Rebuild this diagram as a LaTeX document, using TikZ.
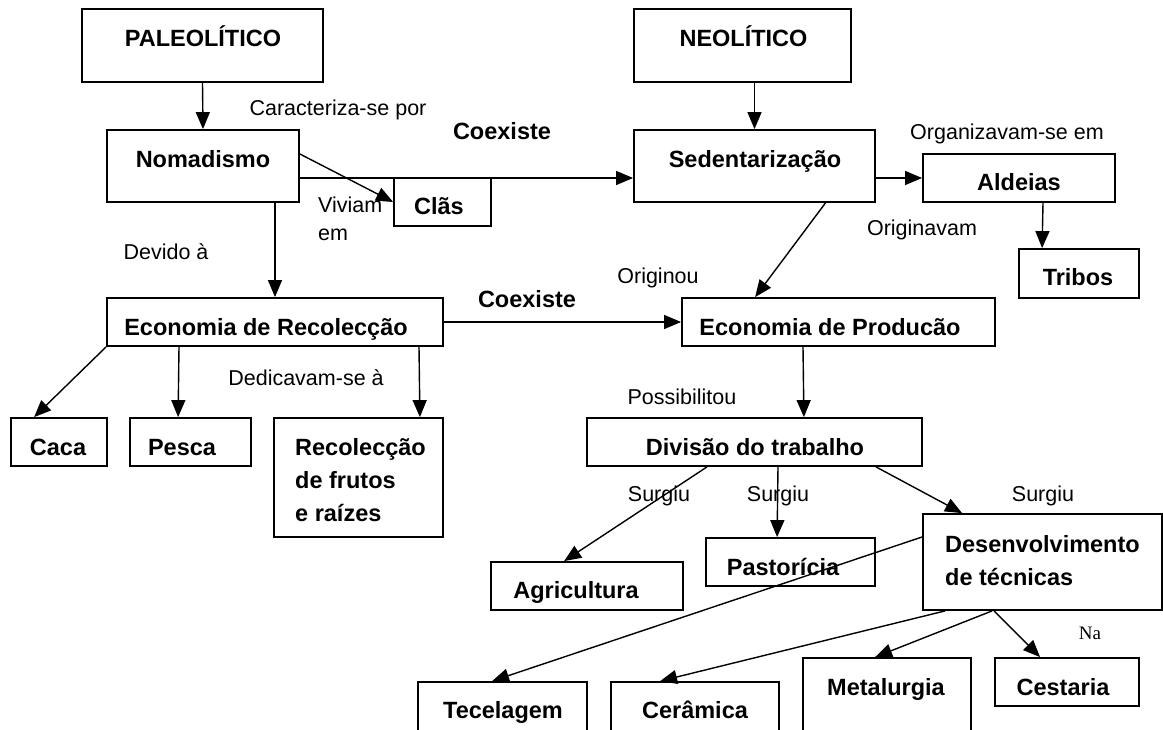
\documentclass[tikz,border=0pt]{standalone}
\usepackage{fontspec}
\setmainfont{Liberation Sans}
\newfontfamily\serifna{Liberation Serif}
\usepackage{tikz}
\usetikzlibrary{arrows.meta}

\begin{document}
\begin{tikzpicture}[x=1pt,y=1pt,yscale=-1,
	box/.style={draw, line width=1.8pt, inner sep=0pt},
	bold/.style={font=\fontsize{23.5}{33}\selectfont\bfseries, inner sep=0pt, anchor=base},
	lbl/.style={font=\fontsize{21.5}{28}\selectfont, inner sep=0pt, anchor=base},
	arr/.style={line width=1.4pt, -{Triangle[length=17pt,width=14pt]}}]
	
	\useasboundingbox (0,0) rectangle (1163,730);
	
	%Shape: Rectangle
	\node [box, minimum width=241pt, minimum height=73pt] (paleo) at (202.5,45.5) {};
	\node [box, minimum width=217pt, minimum height=73pt] (neo) at (742.5,45.5) {};
	\node [box, minimum width=192pt, minimum height=72pt] (nomad) at (203,166) {};
	\node [box, minimum width=241pt, minimum height=72pt] (sedent) at (754.5,166) {};
	\node [box, minimum width=97pt, minimum height=48pt] (clas) at (442.5,202) {};
	\node [box, minimum width=192pt, minimum height=48pt] (aldeias) at (1019,178) {};
	\node [box, minimum width=120pt, minimum height=49pt] (tribos) at (1079,273.5) {};
	\node [box, minimum width=336pt, minimum height=48pt] (ecorec) at (275,322) {};
	\node [box, minimum width=313pt, minimum height=48pt] (ecoprod) at (838.5,322) {};
	\node [box, minimum width=96pt, minimum height=48pt] (caca) at (59,442) {};
	\node [box, minimum width=121pt, minimum height=48pt] (pesca) at (190.5,442) {};
	\node [box, minimum width=169pt, minimum height=119pt] (recol) at (358.5,477.5) {};
	\node [box, minimum width=335pt, minimum height=48pt] (divtrab) at (754.5,442) {};
	\node [box, minimum width=192pt, minimum height=48pt] (agric) at (587,586) {};
	\node [box, minimum width=169pt, minimum height=48pt] (pastor) at (790.5,562) {};
	\node [box, minimum width=239pt, minimum height=96pt] (desenv) at (1042.5,562) {};
	\node [box, minimum width=169pt, minimum height=78pt] (tecel) at (502.5,721) {};
	\node [box, minimum width=168pt, minimum height=78pt] (ceram) at (695,721) {};
	\node [box, minimum width=168pt, minimum height=102pt] (metal) at (887,709) {};
	\node [box, minimum width=144pt, minimum height=48pt] (cest) at (1067,682) {};
	
	%Straight Lines
	\draw [arr] (paleo.south) -- (nomad.north);
	\draw [arr] (sedent.north |- neo.south) -- (sedent.north);
	\draw [arr] ([yshift=12pt]nomad.east) -- ([yshift=12pt]sedent.west);
	\draw [arr] ([yshift=-12pt]nomad.east) -- (clas.west);
	\draw [arr] (ecorec.north |- nomad.south) -- (ecorec.north);
	\draw [arr] ([yshift=12pt]sedent.east) -- (aldeias.west);
	\draw [arr] ([xshift=24pt]aldeias.south) -- ([xshift=24pt]tribos.north west);
	\draw [arr] ([xshift=71pt]sedent.south) -- ([xshift=74pt]ecoprod.north west);
	\draw [arr] (ecorec.east) -- (ecoprod.west);
	\draw [arr] (ecorec.south west) -- ([xshift=24pt]caca.north west);
	\draw [arr] ([xshift=-96pt]ecorec.south) -- ([xshift=49pt]pesca.north west);
	\draw [arr] ([xshift=144pt]ecorec.south) -- ([xshift=-24pt]recol.north east);
	\draw [arr] ([xshift=-35.5pt]ecoprod.south) -- ([xshift=-119pt]divtrab.north east);
	\draw [arr] ([xshift=-47.5pt]divtrab.south) -- ([xshift=74pt]agric.north west);
	\draw [arr] ([xshift=23.5pt]divtrab.south) -- ([xshift=72pt]pastor.north west);
	\draw [arr] ([xshift=121.5pt]divtrab.south) -- ([xshift=40pt]desenv.north west);
	\draw [arr] ([yshift=-25pt]desenv.west) -- ([xshift=75pt]tecel.north west);
	\draw [arr] ([xshift=23pt]desenv.south west) -- ([xshift=50pt]ceram.north west);
	\draw [arr] ([xshift=70pt]desenv.south west) -- ([xshift=73pt]metal.north west);
	\draw [arr] ([xshift=72pt]desenv.south west) -- ([xshift=46pt]cest.north west);
	
	% Text Node
	\node [bold] (t-paleo) at (203,47) {PALEOLÍTICO};
	\node [bold] (t-neo) at (743.5,47) {NEOLÍTICO};
	\node [bold] (t-nomad) at (203,168) {Nomadismo};
	\node [bold] (t-sedent) at (755,168) {Sedentarização};
	\node [bold] (t-clas) at (439,215) {Clãs};
	\node [bold] (t-aldeias) at (1019,191) {Aldeias};
	\node [bold] (t-tribos) at (1078,286) {Tribos};
	\node [bold] (t-ecorec) at (266,335) {Economia de Recolecção};
	\node [bold] (t-ecoprod) at (830,335) {Economia de Producão};
	\node [bold] (t-caca) at (58,455) {Caca};
	\node [bold] (t-pesca) at (182,455) {Pesca};
	\node [bold, anchor=base west, align=left] (t-recol) at (295,521) {Recolecção\\de frutos\\e raízes};
	\node [bold] (t-divtrab) at (755,455) {Divisão do trabalho};
	\node [bold] (t-agric) at (576,598) {Agricultura};
	\node [bold] (t-pastor) at (783,575) {Pastorícia};
	\node [bold, anchor=base west, align=left] (t-desenv) at (945,585) {Desenvolvimento\\de técnicas};
	\node [bold] (t-tecel) at (503,718) {Tecelagem};
	\node [bold] (t-ceram) at (695,718) {Cerâmica};
	\node [bold] (t-metal) at (886,695) {Metalurgia};
	\node [bold] (t-cest) at (1063,695) {Cestaria};
	
	% Text Node
	\node [lbl] (l-caract) at (338,116) {Caracteriza-se por};
	\node [bold] (l-coex1) at (502,140) {Coexiste};
	\node [lbl, anchor=base west, align=left] (l-viviam) at (318,241) {Viviam\\em};
	\node [lbl] (l-devido) at (166,260) {Devido à};
	\node [lbl] (l-organiz) at (1007,140) {Organizavam-se em};
	\node [lbl] (l-originavam) at (922,236) {Originavam};
	\node [lbl] (l-originou) at (658,284) {Originou};
	\node [bold] (l-coex2) at (527,308) {Coexiste};
	\node [lbl] (l-dedic) at (306,385) {Dedicavam-se à};
	\node [lbl] (l-possib) at (682,404) {Possibilitou};
	\node [lbl] (l-surg1) at (659,501) {Surgiu};
	\node [lbl] (l-surg2) at (778,501) {Surgiu};
	\node [lbl] (l-surg3) at (1043,501) {Surgiu};
	\node [lbl, font=\serifna\fontsize{19}{22}\selectfont] (l-na) at (1090,639) {Na};
\end{tikzpicture}
\end{document}
